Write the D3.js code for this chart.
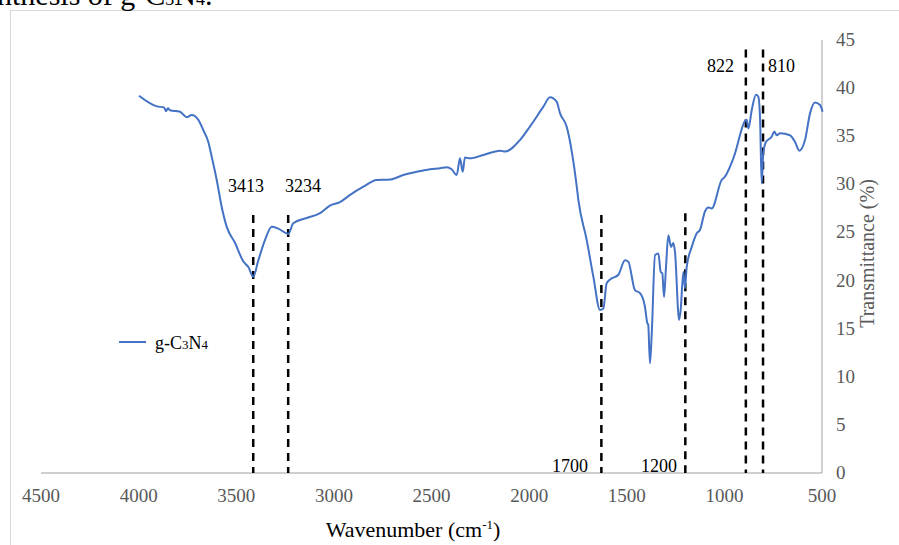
<!DOCTYPE html>
<html>
<head>
<meta charset="utf-8">
<script src="https://cdn.jsdelivr.net/npm/d3@7"></script>
<style>
    body { margin: 0; background: #fff; }
    svg { display: block; font-family: "Liberation Serif", "Times New Roman", serif; }
    .tick_texts { fill: #595959; font-size: 19px; }
    .peak_texts { fill: #000; font-size: 18px; }
</style>
</head>
<body>
<div id="chart_container"></div>
<script>
// spectrum
const wavenumbers = [3998, 3907, 3870, 3860, 3850, 3839, 3788, 3754, 3728, 3694, 3669, 3643, 3626, 3600,
    3575, 3549, 3506, 3464, 3438, 3413, 3387, 3353, 3318, 3285, 3233, 3208, 3139, 3071, 3020,
    2969, 2917, 2849, 2781, 2712, 2644, 2576, 2508, 2456, 2422, 2397, 2371, 2354, 2340, 2329,
    2303, 2235, 2149, 2124, 2047, 1996, 1927, 1893, 1859, 1842, 1808, 1756, 1748, 1705, 1671,
    1637, 1620, 1603, 1586, 1543, 1509, 1492, 1458, 1432, 1407, 1395, 1390, 1381, 1372, 1355,
    1338, 1326, 1318, 1309, 1299, 1287, 1273, 1262, 1253, 1232, 1224, 1210, 1202, 1193, 1167,
    1142, 1125, 1099, 1082, 1065, 1014, 997, 954, 886, 877, 860, 838, 826, 817, 809, 801, 787,
    758, 744, 732, 715, 664, 638, 616, 587, 561, 536, 510, 497];
const transmittance = [39.2, 38.1, 38.0, 37.6, 37.9, 37.7, 37.55, 36.97, 37.2, 36.7, 35.65, 34.4, 32.9, 30.45,
    27.7, 25.6, 23.9, 22.0, 21.4, 20.4, 22.1, 24.2, 25.6, 25.4, 24.85, 25.95, 26.5, 27.0, 27.8,
    28.15, 28.9, 29.75, 30.45, 30.5, 30.97, 31.3, 31.56, 31.67, 31.77, 31.56, 30.97, 32.7, 31.3, 32.8,
    32.7, 33.05, 33.5, 33.4, 34.6, 36.0, 38.07, 39.05, 38.6, 37.4, 36.0, 29.75, 28.4, 24.2, 20.4,
    16.94, 17.1, 19.7, 20.1, 20.6, 22.1, 21.96, 19.0, 18.7, 17.3, 15.6, 15.4, 11.4, 14.5, 22.66,
    22.8, 20.9, 20.75, 18.3, 21.4, 24.7, 23.5, 23.9, 23.0, 15.9, 16.9, 20.9, 19.2, 21.4, 23.5,
    24.9, 25.25, 27.2, 27.6, 27.5, 30.45, 30.8, 32.7, 36.7, 35.8, 37.7, 39.3, 39.1, 36.7, 30.1, 33.2, 34.4,
    34.95, 35.5, 35.1, 35.3, 35.1, 34.4, 33.5, 34.6, 37.4, 38.5, 38.25, 37.55];

// x and y ticks
const xTicks = [4500, 4000, 3500, 3000, 2500, 2000, 1500, 1000, 500];
const yTicks = [0, 5, 10, 15, 20, 25, 30, 35, 40, 45];

// dashed peak markers
const peakLabels = ["3413", "3234", "1700", "1200", "822", "810"];
const peakLineAt = [3413, 3234, 1630, 1200, 890, 802];
const peakLineTop = [26.8, 26.8, 26.8, 27, 44, 44];
const peakLabelAt = [3542, 3250, 1883, 1427, 1089, 777];
const peakLabelBase = [29.2, 29.2, 0.1, 0.1, 41.7, 41.7];

const seriesName = "g-C3N4";

let svg, xScale, yScale;
const width = 899, height = 545;
const margin = {top: 40, right: 77, bottom: 72, left: 41};

function defineSVG(){
    svg = d3.select("#chart_container").append("svg")
        .attr("width", width)
        .attr("height", height);

    // light frame of the pasted figure
    svg.append("rect")
        .attr("x", 10.5).attr("y", 10.5)
        .attr("width", 900).attr("height", 560)
        .attr("fill", "none")
        .attr("stroke", "#d9d9d9")
        .attr("stroke-width", 1);

    // bit of caption cut off at the top
    const cap = svg.append("text")
        .attr("x", -3).attr("y", 5)
        .attr("font-size", 30)
        .attr("fill", "#000");
    cap.append("tspan").text("nthesis of g-C");
    cap.append("tspan").attr("font-size", 18).text("3");
    cap.append("tspan").text("N");
    cap.append("tspan").attr("font-size", 18).text("4");
    cap.append("tspan").text(".");
}

function setScales(){
    xScale = d3.scaleLinear().domain([4500, 500]).range([margin.left, width - margin.right]);
    yScale = d3.scaleLinear().domain([0, 45]).range([height - margin.bottom, margin.top]);
}

function drawAxes(){
    // bottom axis line
    svg.append("line")
        .attr("x1", xScale(4500)).attr("x2", xScale(500))
        .attr("y1", yScale(0)).attr("y2", yScale(0))
        .attr("stroke", "#bfbfbf").attr("stroke-width", 1.5);

    // right axis line
    svg.append("line")
        .attr("x1", xScale(500)).attr("x2", xScale(500))
        .attr("y1", yScale(0)).attr("y2", yScale(45))
        .attr("stroke", "#bfbfbf").attr("stroke-width", 1.5);

    svg.append("g").selectAll("text")
        .data(xTicks)
        .join("text")
        .attr("class", "tick_texts")
        .attr("x", d => xScale(d))
        .attr("y", yScale(0) + 29)
        .attr("text-anchor", "middle")
        .text(d => d);

    svg.append("g").selectAll("text")
        .data(yTicks)
        .join("text")
        .attr("class", "tick_texts")
        .attr("x", xScale(500) + 14)
        .attr("y", d => yScale(d) + 6)
        .text(d => d);

    // axis titles
    const xt = svg.append("text")
        .attr("x", 413).attr("y", 537)
        .attr("text-anchor", "middle")
        .attr("font-size", 22)
        .attr("fill", "#000");
    xt.append("tspan").text("Wavenumber (cm");
    xt.append("tspan").attr("font-size", 13).attr("dy", -8).text("-1");
    xt.append("tspan").attr("dy", 8).text(")");

    svg.append("text")
        .attr("transform", "translate(874," + ((yScale(0) + yScale(45)) / 2 - 3) + ") rotate(-90)")
        .attr("text-anchor", "middle")
        .attr("font-size", 20)
        .attr("fill", "#595959")
        .text("Transmittance (%)");
}

function drawPeaks(){
    const peaks = d3.range(peakLabels.length);

    svg.append("g").selectAll("line")
        .data(peaks)
        .join("line")
        .attr("x1", i => xScale(peakLineAt[i]))
        .attr("x2", i => xScale(peakLineAt[i]))
        .attr("y1", i => yScale(peakLineTop[i]))
        .attr("y2", yScale(0))
        .attr("stroke", "#000")
        .attr("stroke-width", 2.5)
        .attr("stroke-dasharray", "8,6");

    svg.append("g").selectAll("text")
        .data(peaks)
        .join("text")
        .attr("class", "peak_texts")
        .attr("x", i => xScale(peakLabelAt[i]))
        .attr("y", i => yScale(peakLabelBase[i]))
        .text(i => peakLabels[i]);
}

function drawSpectrum(){
    const points = wavenumbers.map((w, i) => [w, transmittance[i]]);
    const line = d3.line()
        .x(d => xScale(d[0]))
        .y(d => yScale(d[1]))
        .curve(d3.curveMonotoneX);

    svg.append("path")
        .datum(points)
        .attr("fill", "none")
        .attr("stroke", "#4472c4")
        .attr("stroke-width", 2)
        .attr("stroke-linejoin", "round")
        .attr("d", line);

    // legend
    svg.append("line")
        .attr("x1", 119).attr("x2", 146)
        .attr("y1", 342).attr("y2", 342)
        .attr("stroke", "#4472c4").attr("stroke-width", 2);

    const lg = svg.append("text")
        .attr("x", 155).attr("y", 349)
        .attr("font-size", 18)
        .attr("fill", "#000");
    lg.append("tspan").text("g-C");
    lg.append("tspan").attr("font-size", 13).text(seriesName.charAt(3));
    lg.append("tspan").text("N");
    lg.append("tspan").attr("font-size", 13).text(seriesName.charAt(5));
}

defineSVG();
setScales();
drawAxes();
drawPeaks();
drawSpectrum();
</script>
</body>
</html>
